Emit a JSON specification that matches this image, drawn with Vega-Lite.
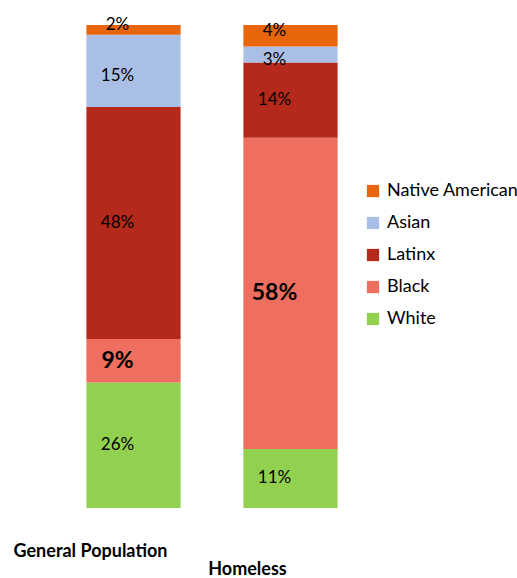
{
  "$schema": "https://vega.github.io/schema/vega-lite/v6.json",
  "autosize": "none",
  "width": 314,
  "height": 483,
  "padding": {"left": 55, "top": 25, "right": 148, "bottom": 70},
  "background": "white",
  "config": {"view": {"stroke": null}, "font": "Lato"},
  "data": {
    "values": [
      {"group": "General Population", "race": "White", "k": 1, "share": 0.26},
      {"group": "General Population", "race": "Black", "k": 2, "share": 0.09},
      {"group": "General Population", "race": "Latinx", "k": 3, "share": 0.48},
      {"group": "General Population", "race": "Asian", "k": 4, "share": 0.15},
      {"group": "General Population", "race": "Native American", "k": 5, "share": 0.02},
      {"group": "Homeless", "race": "White", "k": 1, "share": 0.11},
      {"group": "Homeless", "race": "Black", "k": 2, "share": 0.58},
      {"group": "Homeless", "race": "Latinx", "k": 3, "share": 0.14},
      {"group": "Homeless", "race": "Asian", "k": 4, "share": 0.03},
      {"group": "Homeless", "race": "Native American", "k": 5, "share": 0.04}
    ]
  },
  "transform": [
    {"stack": "share", "groupby": ["group"], "sort": [{"field": "k"}], "offset": "normalize", "as": ["y0", "y1"]},
    {"calculate": "(datum.y0 + datum.y1) / 2", "as": "mid"}
  ],
  "encoding": {
    "x": {
      "field": "group", "type": "nominal", "title": null,
      "scale": {"paddingInner": 0, "paddingOuter": 0},
      "axis": {
        "domain": false, "ticks": false, "labelAngle": 0,
        "labelFontWeight": "bold", "labelFontSize": 18, "labelColor": "black",
        "labelOffset": -43,
        "labelPadding": {"condition": {"test": "datum.value == 'Homeless'", "value": 52}, "value": 34}
      }
    }
  },
  "layer": [
    {
      "mark": {"type": "bar", "width": {"band": 0.6}},
      "encoding": {
        "y": {"field": "y0", "type": "quantitative", "scale": {"domain": [0, 1]}, "axis": null},
        "y2": {"field": "y1"},
        "color": {
          "field": "race", "type": "nominal",
          "scale": {
            "domain": ["Native American", "Asian", "Latinx", "Black", "White"],
            "range": ["#E8650A", "#AABFE6", "#B4291B", "#EE6E5F", "#92D050"]
          },
          "legend": {
            "title": null, "orient": "none", "legendX": 309, "legendY": 157,
            "symbolType": "square", "symbolSize": 150, "symbolStrokeWidth": 0,
            "labelFontSize": 18, "labelColor": "black", "rowPadding": 14, "labelOffset": 5
          }
        }
      }
    },
    {
      "transform": [{"filter": "datum.race == 'Latinx' || datum.race == 'White'"}],
      "mark": {"type": "text", "fontSize": 17, "dx": -16, "color": "black"},
      "encoding": {
        "y": {"field": "mid", "type": "quantitative"},
        "text": {"field": "share", "type": "quantitative", "format": ".0%"}
      }
    },
    {
      "transform": [{"filter": "datum.race == 'Native American'"}],
      "mark": {"type": "text", "fontSize": 17, "dx": -16, "dy": -5, "color": "black"},
      "encoding": {
        "y": {"field": "mid", "type": "quantitative"},
        "text": {"field": "share", "type": "quantitative", "format": ".0%"}
      }
    },
    {
      "transform": [{"filter": "datum.race == 'Asian'"}],
      "mark": {"type": "text", "fontSize": 17, "dx": -16, "dy": 5, "color": "black"},
      "encoding": {
        "y": {"field": "mid", "type": "quantitative"},
        "text": {"field": "share", "type": "quantitative", "format": ".0%"}
      }
    },
    {
      "transform": [{"filter": "datum.race == 'Black'"}],
      "mark": {"type": "text", "fontSize": 23, "fontWeight": "bold", "dx": -16, "color": "black"},
      "encoding": {
        "y": {"field": "mid", "type": "quantitative"},
        "text": {"field": "share", "type": "quantitative", "format": ".0%"}
      }
    }
  ]
}
